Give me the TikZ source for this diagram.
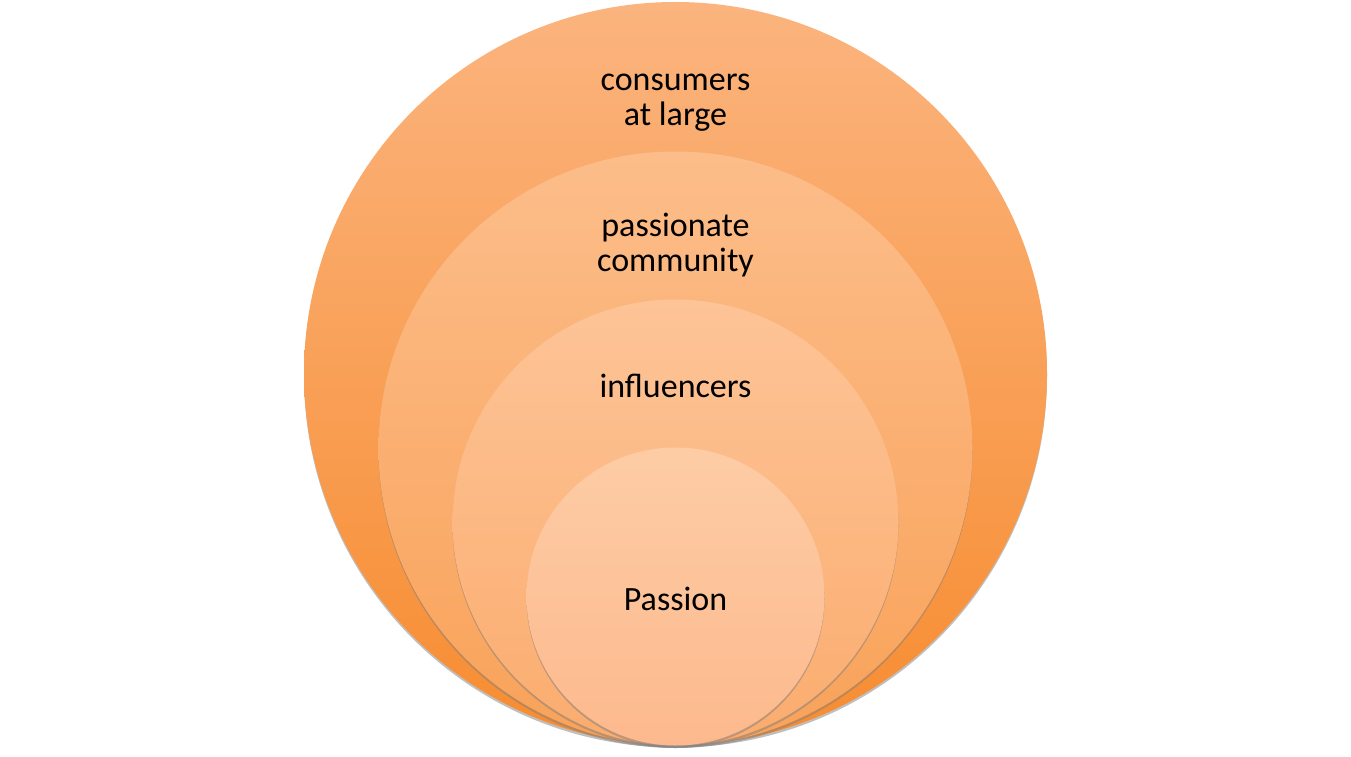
\documentclass[tikz,border=0pt]{standalone}
\usepackage{fontspec}
\setmainfont{Carlito}
\usetikzlibrary{shadows}

\definecolor{ringAtop}{HTML}{FBB47E}
\definecolor{ringAbot}{HTML}{F78C30}
\definecolor{ringBtop}{HTML}{FCBD8A}
\definecolor{ringBbot}{HTML}{F9A259}
\definecolor{ringCtop}{HTML}{FDC497}
\definecolor{ringCbot}{HTML}{FBAC6E}
\definecolor{ringDtop}{HTML}{FDCCA5}
\definecolor{ringDbot}{HTML}{FDB98D}

\tikzset{
  ring/.style={circle, inner sep=0pt, minimum size=#1,
    drop shadow={shadow xshift=0pt, shadow yshift=-2.5pt, opacity=0.5}},
  ringlabel/.style={align=center, inner sep=0pt, text=black,
    font=\fontsize{34}{35}\selectfont}
}

\begin{document}
\begin{tikzpicture}[x=1pt, y=-1pt]
        \useasboundingbox (0,0) rectangle (1351,757);

        % Circles
        \node[ring=743pt, top color=ringAtop, bottom color=ringAbot] (large) at (675.5, 373.5) {};
        \node[ring=594pt, top color=ringBtop, bottom color=ringBbot] (community) at (675.5, 448.5) {};
        \node[ring=446pt, top color=ringCtop, bottom color=ringCbot] (influence) at (675.5, 522.5) {};
        \node[ring=298pt, top color=ringDtop, bottom color=ringDbot] (passion) at (675.5, 596.5) {};

        % Labels
        \node[ringlabel] (largetext) at (675.5, 103) {consumers\\at large};
        \node[ringlabel] (communitytext) at (675.5, 245) {passionate\\community};
        \node[ringlabel] (influencetext) at (675.5, 386) {influencers};
        \node[ringlabel] (passiontext) at (675.5, 599) {Passion};
    \end{tikzpicture}
\end{document}
